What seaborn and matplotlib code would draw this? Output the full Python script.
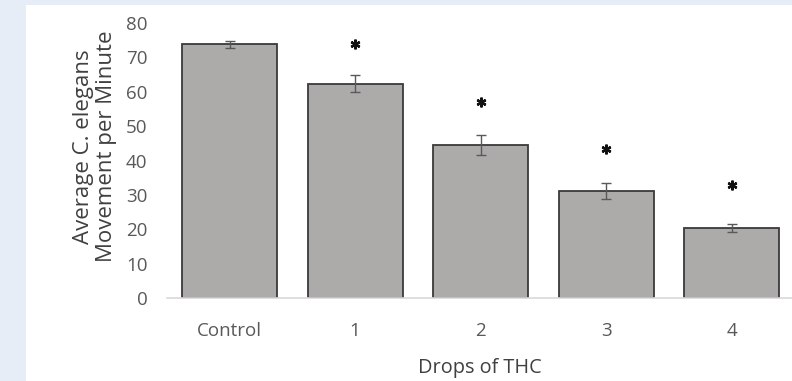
import numpy as np
import pandas as pd
import matplotlib.pyplot as plt
import seaborn as sns

# dati
groups = ["Control", "1", "2", "3", "4"]
movement = [73.8, 62.4, 44.5, 31.1, 20.4]
errors = [1.0, 2.5, 2.9, 2.3, 1.2]
star_groups = ["1", "2", "3", "4"]
star_y = [74.0, 57.0, 43.3, 32.8]

df = pd.DataFrame({"group": groups, "movement": movement})

sns.set_theme(style="white")
plt.rcParams["font.family"] = ["Open Sans", "DejaVu Sans"]

fig = plt.figure(figsize=(7.92, 3.81), dpi=100)
fig.patch.set_facecolor("#e6edf6")

# pannello bianco dietro al grafico
bg = fig.add_axes([26 / 792, 0, 1 - 26 / 792, 1 - 5 / 381], zorder=-5)
bg.set_facecolor("white")
bg.set_xticks([])
bg.set_yticks([])
for sp in bg.spines.values():
    sp.set_visible(False)

ax = fig.add_axes([167 / 792, 1 - 298 / 381, 1 - 167 / 792, (298 - 23) / 381], zorder=1)
ax.set_facecolor("none")

sns.barplot(data=df, x="group", y="movement", color="#adaaaa", width=0.757,
            edgecolor="#3a3a3a", linewidth=1.3, saturation=1, ax=ax)
ax.errorbar(np.arange(len(groups)), movement, yerr=errors, fmt="none",
            ecolor="#595959", elinewidth=1, capsize=3.6, capthick=1)

# asterischi di significatività
star_x = [groups.index(g) for g in star_groups]
ax.plot(star_x, star_y, linestyle="none", marker=(6, 2, 0), markersize=7,
        markeredgewidth=1.7, color="#111111")

ax.set_ylim(0, 80)
ax.set_xlim(-0.498, 4.48)
ax.set_yticks(range(0, 81, 10))
for sp in ["top", "right", "left"]:
    ax.spines[sp].set_visible(False)
ax.spines["bottom"].set_color("#d9d9d9")
ax.spines["bottom"].set_linewidth(1.2)
ax.tick_params(axis="both", length=0, labelsize=13.5, colors="#595959")
ax.tick_params(axis="x", pad=17)
ax.tick_params(axis="y", pad=14)

ax.set_xlabel("Drops of THC", fontsize=14.3, color="#404040", labelpad=13)
ax.set_ylabel("Average C. elegans\nMovement per Minute", fontsize=16,
              color="#404040", linespacing=1.15)
ax.yaxis.set_label_coords(-0.08, 0.55)

plt.savefig("out.png", dpi=100, facecolor=fig.get_facecolor())
